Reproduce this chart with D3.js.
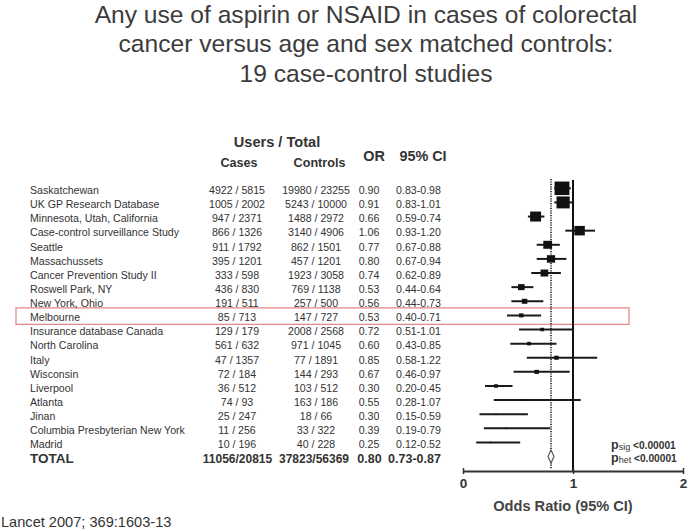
<!DOCTYPE html>
<html>
<head>
<meta charset="utf-8">
<script src="https://cdn.jsdelivr.net/npm/d3@7"></script>
<style>
  html, body { margin: 0; padding: 0; background: #fff; }
  svg { display: block; font-family: "Liberation Sans", Arial, sans-serif; }
</style>
</head>
<body>
<svg id="chart" width="688" height="531"></svg>
<script>
// ---------------- data ----------------
const titleLines = [
  "Any use of aspirin or NSAID in cases of colorectal",
  "cancer versus age and sex matched controls:",
  "19 case-control studies"
];
const studies = [
  "Saskatchewan", "UK GP Research Database", "Minnesota, Utah, California",
  "Case-control surveillance Study", "Seattle", "Massachussets",
  "Cancer Prevention Study II", "Roswell Park, NY", "New York, Ohio",
  "Melbourne", "Insurance database Canada", "North Carolina", "Italy",
  "Wisconsin", "Liverpool", "Atlanta", "Jinan",
  "Columbia Presbyterian New York", "Madrid"
];
const casesUsers    = [4922, 1005, 947, 866, 911, 395, 333, 436, 191, 85, 129, 561, 47, 72, 36, 74, 25, 11, 10];
const casesTotal    = [5815, 2002, 2371, 1326, 1792, 1201, 598, 830, 511, 713, 179, 632, 1357, 184, 512, 93, 247, 256, 196];
const controlsUsers = [19980, 5243, 1488, 3140, 862, 457, 1923, 769, 257, 147, 2008, 971, 77, 144, 103, 163, 18, 33, 40];
const controlsTotal = [23255, 10000, 2972, 4906, 1501, 1201, 3058, 1138, 500, 727, 2568, 1045, 1891, 293, 512, 186, 66, 322, 228];
const oddsRatio = [0.90, 0.91, 0.66, 1.06, 0.77, 0.80, 0.74, 0.53, 0.56, 0.53, 0.72, 0.60, 0.85, 0.67, 0.30, 0.55, 0.30, 0.39, 0.25];
const ciLow     = [0.83, 0.83, 0.59, 0.93, 0.67, 0.67, 0.62, 0.44, 0.44, 0.40, 0.51, 0.43, 0.58, 0.46, 0.20, 0.28, 0.15, 0.19, 0.12];
const ciHigh    = [0.98, 1.01, 0.74, 1.20, 0.88, 0.94, 0.89, 0.64, 0.73, 0.71, 1.01, 0.85, 1.22, 0.97, 0.45, 1.07, 0.59, 0.79, 0.52];
// approximate relative weights (%)
const weights   = [21.2, 16.7, 11.6, 10.5, 7.4, 6.5, 5.7, 4.2, 2.9, 1.9, 1.4, 1.4, 1.9, 1.9, 1.4, 0.3, 0.1, 0.1, 0.2];
const highlighted = "Melbourne";
const totalLabel = "TOTAL";
const total = { cases: "11056/20815", controls: "37823/56369", or: 0.80, lo: 0.73, hi: 0.87 };
const pValues = [ { sub: "sig", text: "<0.00001" }, { sub: "het", text: "<0.00001" } ];
const axisTicks = [0, 1, 2];
const axisTitle = "Odds Ratio (95% CI)";
const citation = "Lancet 2007; 369:1603-13";

// ---------------- drawing ----------------
const svg = d3.select("#chart");
const fmt = d3.format(".2f");
const textCol = "#333";

// title
svg.append("g").selectAll("text").data(titleLines).join("text")
  .attr("x", 366).attr("y", (d, i) => 22.5 + i * 29.5)
  .attr("text-anchor", "middle").attr("font-size", 24.6).attr("fill", "#3c3c3c")
  .text(d => d);

// scales
const x = d3.scaleLinear().domain([0, 2]).range([463, 683]);
const y = d3.scalePoint().domain([...studies, totalLabel]).range([188.3, 456.6]);
const size = d3.scaleSqrt().domain([0, d3.max(weights)]).range([0, 13.5]);

// headers
const hdr = svg.append("g").attr("fill", textCol).attr("font-weight", "bold").attr("text-anchor", "middle");
hdr.append("text").attr("x", 277).attr("y", 147).attr("font-size", 14.6).text("Users / Total");
hdr.append("text").attr("x", 239).attr("y", 167).attr("font-size", 12.6).text("Cases");
hdr.append("text").attr("x", 319.5).attr("y", 167).attr("font-size", 12.6).text("Controls");
hdr.append("text").attr("x", 374).attr("y", 161).attr("font-size", 14.4).text("OR");
hdr.append("text").attr("x", 423).attr("y", 161).attr("font-size", 14.4).text("95% CI");

// highlight box
svg.append("rect")
  .attr("x", 16).attr("y", y(highlighted) - 7.5)
  .attr("width", 613).attr("height", 16.5)
  .attr("fill", "none").attr("stroke", "#e58a8a").attr("stroke-width", 1.3);

// table rows
const rows = svg.append("g").attr("fill", textCol).attr("font-size", 10.6);
studies.forEach((s, i) => {
  const by = y(s) + 5.8;
  rows.append("text").attr("x", 30).attr("y", by).text(s);
  rows.append("text").attr("x", 237).attr("y", by).attr("text-anchor", "middle")
    .text(casesUsers[i] + " / " + casesTotal[i]);
  rows.append("text").attr("x", 316).attr("y", by).attr("text-anchor", "middle")
    .text(controlsUsers[i] + " / " + controlsTotal[i]);
  rows.append("text").attr("x", 369).attr("y", by).attr("text-anchor", "middle")
    .text(fmt(oddsRatio[i]));
  rows.append("text").attr("x", 418.5).attr("y", by).attr("text-anchor", "middle")
    .text(fmt(ciLow[i]) + "-" + fmt(ciHigh[i]));
});

// total row
const ty = y(totalLabel) + 6.5;
const tot = svg.append("g").attr("fill", textCol).attr("font-weight", "bold");
tot.append("text").attr("x", 30).attr("y", ty).attr("font-size", 13.5).text(totalLabel);
tot.append("text").attr("x", 237.5).attr("y", ty).attr("font-size", 12).attr("text-anchor", "middle").text(total.cases);
tot.append("text").attr("x", 314).attr("y", ty).attr("font-size", 12).attr("text-anchor", "middle").text(total.controls);
tot.append("text").attr("x", 369.5).attr("y", ty).attr("font-size", 12.5).attr("text-anchor", "middle").text(fmt(total.or));
tot.append("text").attr("x", 414.5).attr("y", ty).attr("font-size", 12.5).attr("text-anchor", "middle").text(fmt(total.lo) + "-" + fmt(total.hi));

// reference lines
const plotTop = 179, axisY = 471;
svg.append("line")
  .attr("x1", x(total.or)).attr("x2", x(total.or))
  .attr("y1", plotTop).attr("y2", axisY - 2)
  .attr("stroke", "#333").attr("stroke-width", 1.8).attr("stroke-dasharray", "1.2,1.2");
svg.append("line")
  .attr("x1", x(1)).attr("x2", x(1))
  .attr("y1", plotTop + 1).attr("y2", axisY)
  .attr("stroke", "#111").attr("stroke-width", 2);

// CI lines and squares
const forest = svg.append("g");
studies.forEach((s, i) => {
  forest.append("line")
    .attr("x1", x(ciLow[i])).attr("x2", x(ciHigh[i]))
    .attr("y1", y(s)).attr("y2", y(s))
    .attr("stroke", "#1a1a1a").attr("stroke-width", 2);
  const sz = Math.max(size(weights[i]), 1.5);
  forest.append("rect")
    .attr("x", x(oddsRatio[i]) - sz * 0.55).attr("y", y(s) - sz / 2)
    .attr("width", sz * 1.1).attr("height", sz)
    .attr("fill", "#111");
});

// summary diamond
const dcx = x(total.or), dcy = y(totalLabel);
svg.append("path")
  .attr("d", `M${dcx - 3},${dcy} L${dcx},${dcy - 6.5} L${dcx + 3},${dcy} L${dcx},${dcy + 6.5} Z`)
  .attr("fill", "#fff").attr("stroke", "#555").attr("stroke-width", 1.2);

// p values
const pv = svg.append("g").attr("fill", textCol).attr("font-weight", "bold");
pValues.forEach((p, i) => {
  const t = pv.append("text").attr("x", 611).attr("y", 448.5 + i * 13);
  t.append("tspan").attr("font-size", 12.5).text("p");
  t.append("tspan").attr("font-size", 9).attr("font-weight", "normal").attr("dy", 1.5).text(p.sub);
  t.append("tspan").attr("font-size", 10.2).attr("dy", -1.5).text(" " + p.text);
});

// axis
const axis = svg.append("g").attr("transform", `translate(0,${axisY})`)
  .call(d3.axisBottom(x).tickValues(axisTicks).tickFormat(d3.format("d")).tickSizeOuter(0).tickSizeInner(3));
axis.select(".domain").attr("stroke", "#333").attr("stroke-width", 2);
axis.selectAll(".tick line").attr("y1", -3).attr("y2", 3).attr("stroke", "#333").attr("stroke-width", 1.5);
axis.selectAll(".tick text")
  .attr("y", 17).attr("dy", 0)
  .attr("font-size", 13.5).attr("font-weight", "bold").attr("fill", "#333")
  .attr("font-family", "Liberation Sans, Arial, sans-serif");

svg.append("text").attr("x", 563).attr("y", 511)
  .attr("text-anchor", "middle").attr("font-size", 14.6).attr("font-weight", "bold").attr("fill", "#444")
  .text(axisTitle);

// citation
svg.append("text").attr("x", 1).attr("y", 527)
  .attr("font-size", 14.6).attr("fill", textCol).text(citation);
</script>
</body>
</html>
